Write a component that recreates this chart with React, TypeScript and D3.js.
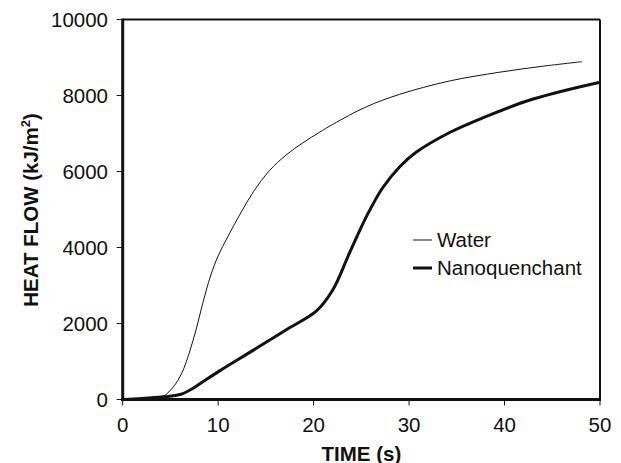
import React from 'react';
import * as d3 from 'd3';

// time (s) and heat flow (kJ/m2)
const waterTime = [0, 2, 4, 4.4, 5.3, 6.2, 7, 7.7, 8.4, 9.2, 10, 11, 12.3, 13.7, 15.4, 17.1, 18.9, 20.6, 22, 25.5, 29, 34.2, 39.4, 44, 48.1];
const waterFlow = [0, 30, 80, 110, 330, 700, 1250, 1850, 2550, 3250, 3780, 4280, 4880, 5470, 6030, 6430, 6760, 7030, 7240, 7700, 8030, 8380, 8610, 8770, 8890];

const nanoTime = [0, 2, 4.25, 6, 7.2, 8.4, 10.2, 13.7, 17.1, 20.3, 22, 23.75, 25.5, 27.2, 29, 30.7, 34.2, 37.7, 42.9, 50];
const nanoFlow = [0, 25, 70, 130, 270, 470, 760, 1300, 1830, 2330, 2880, 3850, 4800, 5560, 6120, 6500, 7020, 7410, 7900, 8350];

const xTicks = [0, 10, 20, 30, 40, 50];
const yTicks = [0, 2000, 4000, 6000, 8000, 10000];

const legendItems = [
  { label: 'Water', width: 1 },
  { label: 'Nanoquenchant', width: 3 },
];

const font = 'Liberation Sans, Arial, Helvetica, sans-serif';
const fs = 20.5;

const App: React.FC = () => {
  const W = 621;
  const H = 463;
  const left = 122.7;
  const right = 600;
  const top = 19.5;
  const bottom = 399.5;

  const x = d3.scaleLinear().domain([0, 50]).range([left, right]);
  const y = d3.scaleLinear().domain([0, 10000]).range([bottom, top]);

  const line = d3
    .line<[number, number]>()
    .x(d => x(d[0]))
    .y(d => y(d[1]))
    .curve(d3.curveCatmullRom.alpha(0.5));

  const water = waterTime.map((t, i) => [t, waterFlow[i]] as [number, number]);
  const nano = nanoTime.map((t, i) => [t, nanoFlow[i]] as [number, number]);

  return (
    <svg
      width={W}
      height={H}
      style={{ position: 'absolute', left: 0, top: 0, background: '#fff' }}
      fontFamily={font}
    >
      {/* frame */}
      <line x1={left} x2={right} y1={top} y2={top} stroke="#111" strokeWidth={2} />
      <line x1={right} x2={right} y1={top} y2={bottom} stroke="#111" strokeWidth={2} />

      {/* series */}
      <path d={line(water) || ''} fill="none" stroke="#111" strokeWidth={1} />
      <path d={line(nano) || ''} fill="none" stroke="#111" strokeWidth={3} />

      {/* axes */}
      <line x1={left} x2={left} y1={top - 1} y2={bottom + 1.5} stroke="#111" strokeWidth={3} />
      <line x1={left - 1.5} x2={right + 1} y1={bottom} y2={bottom} stroke="#111" strokeWidth={3} />

      {yTicks.map(v => (
        <g key={`y${v}`}>
          <line x1={left - 6} x2={left} y1={y(v)} y2={y(v)} stroke="#111" strokeWidth={1} />
          <text x={108} y={y(v)} dy="0.36em" textAnchor="end" fontSize={fs} fill="#111">
            {v}
          </text>
        </g>
      ))}
      {xTicks.map(v => (
        <g key={`x${v}`}>
          <line x1={x(v)} x2={x(v)} y1={bottom} y2={bottom + 6} stroke="#111" strokeWidth={1} />
          <text x={x(v)} y={431.5} textAnchor="middle" fontSize={fs} fill="#111">
            {v}
          </text>
        </g>
      ))}

      {/* axis titles */}
      <text x={(left + right) / 2} y={460.5} textAnchor="middle" fontSize={fs} fontWeight="bold" fill="#111">
        TIME (s)
      </text>
      <text
        transform="translate(37.5,210) rotate(-90)"
        textAnchor="middle"
        fontSize={fs}
        fontWeight="bold"
        fill="#111"
      >
        HEAT FLOW (kJ/m<tspan fontSize={13} dy={-8}>2</tspan>
        <tspan dy={8}>)</tspan>
      </text>

      {/* legend */}
      {legendItems.map((item, i) => (
        <g key={item.label} transform={`translate(413,${240 + i * 28})`}>
          <line x1={0} x2={19} y1={0} y2={0} stroke="#111" strokeWidth={item.width} />
          <text x={24} y={0} dy="0.36em" fontSize={fs} fill="#111">
            {item.label}
          </text>
        </g>
      ))}
    </svg>
  );
};

export default App;
